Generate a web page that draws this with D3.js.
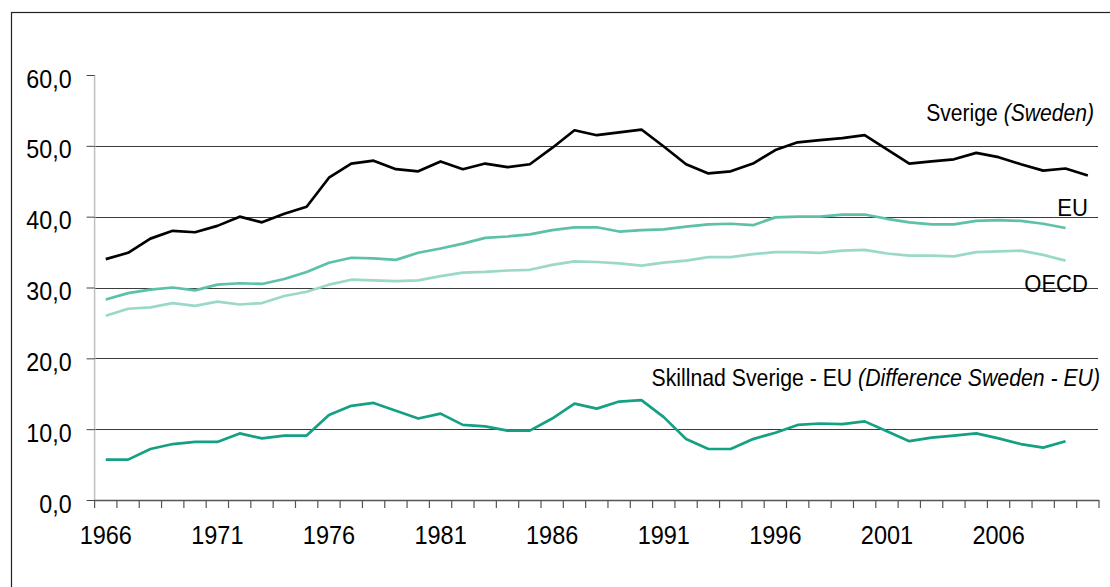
<!DOCTYPE html>
<html><head><meta charset="utf-8">
<script src="https://cdn.jsdelivr.net/npm/d3@7"></script>
<style>
html,body{margin:0;padding:0;background:#fff;}
svg{display:block;font-family:"Liberation Sans",Arial,sans-serif;}
</style></head>
<body><svg id="c" width="1110" height="587"></svg>
<script>
const years = d3.range(1966, 2011);
const tickYears = [1966, 1971, 1976, 1981, 1986, 1991, 1996, 2001, 2006];
const yTicks = [0, 10, 20, 30, 40, 50, 60];
const gridValues = [10, 20, 30, 40, 50];

const sweden = [34.0, 34.9, 36.9, 38.0, 37.8, 38.7, 40.0, 39.2, 40.4, 41.4,
  45.5, 47.5, 47.9, 46.7, 46.4, 47.8, 46.7, 47.5, 47.0, 47.4,
  49.7, 52.2, 51.5, 51.9, 52.3, 49.9, 47.4, 46.1, 46.4, 47.5,
  49.4, 50.5, 50.8, 51.1, 51.5, 49.5, 47.5, 47.8, 48.1, 49.0,
  48.4, 47.4, 46.5, 46.8, 45.8];
const eu = [28.3, 29.2, 29.7, 30.0, 29.6, 30.4, 30.6, 30.5, 31.2, 32.2,
  33.5, 34.2, 34.1, 33.9, 34.9, 35.5, 36.2, 37.0, 37.2, 37.5,
  38.1, 38.5, 38.5, 37.9, 38.1, 38.2, 38.6, 38.9, 39.0, 38.8,
  39.9, 40.0, 40.0, 40.3, 40.3, 39.7, 39.2, 38.9, 38.9, 39.4,
  39.5, 39.4, 39.0, 38.4];
const oecd = [26.0, 27.0, 27.2, 27.8, 27.4, 28.0, 27.6, 27.8, 28.8, 29.4,
  30.4, 31.1, 31.0, 30.9, 31.0, 31.6, 32.1, 32.2, 32.4, 32.5,
  33.2, 33.7, 33.6, 33.4, 33.1, 33.5, 33.8, 34.3, 34.3, 34.7,
  35.0, 35.0, 34.9, 35.2, 35.3, 34.8, 34.5, 34.5, 34.4, 35.0,
  35.1, 35.2, 34.6, 33.8];
const diff = [5.7, 5.7, 7.2, 7.9, 8.2, 8.2, 9.4, 8.7, 9.1, 9.1,
  12.0, 13.3, 13.7, 12.6, 11.5, 12.2, 10.6, 10.4, 9.8, 9.8,
  11.5, 13.6, 12.9, 13.9, 14.1, 11.7, 8.6, 7.2, 7.2, 8.6,
  9.5, 10.6, 10.8, 10.7, 11.1, 9.7, 8.3, 8.8, 9.1, 9.4,
  8.7, 7.9, 7.4, 8.3];

const series = [
  {name: "oecd", values: oecd, color: "#9ad9c9", width: 2.7},
  {name: "eu", values: eu, color: "#5cc1a7", width: 2.7},
  {name: "sweden", values: sweden, color: "#000000", width: 2.7},
  {name: "diff", values: diff, color: "#16a083", width: 2.7}
];

(function() {
const svg = d3.select("#c");
const pl = 94.6, pr = 1099, pt = 75, pb = 500;
const x = d3.scaleBand().domain(years).range([pl, pr]).padding(0);
const y = d3.scaleLinear().domain([0, 60]).range([pb, pt]);

// outer border
svg.append("rect").attr("x", 11.5).attr("y", 12.5).attr("width", 1200).attr("height", 700)
  .attr("fill", "none").attr("stroke", "#222").attr("stroke-width", 1.2);

// gridlines
svg.append("g").selectAll("line").data(gridValues).join("line")
  .attr("x1", pl).attr("x2", 1098)
  .attr("y1", d => Math.round(y(d)) + 0.5).attr("y2", d => Math.round(y(d)) + 0.5)
  .attr("stroke", "#3c3c3c").attr("stroke-width", 1);

// y axis
const yAxis = svg.append("g").attr("transform", `translate(${pl},0)`)
  .call(d3.axisLeft(y).tickValues(yTicks).tickSize(8).tickPadding(14)
    .tickFormat(d => d.toFixed(1).replace(".", ",")));
yAxis.select(".domain").attr("stroke", "#c0c0c0").attr("stroke-width", 1.5)
  .attr("d", `M0,${pt}V${pb}`);
yAxis.selectAll(".tick line").attr("stroke", "#444");
yAxis.selectAll(".tick text").attr("font-size", 25).attr("fill", "#000")
  .attr("font-family", "Liberation Sans, Arial, sans-serif")
  .attr("dy", "0.48em")
  .attr("x", null).attr("text-anchor", "end")
  .attr("transform", "translate(-23,0) scale(0.93,1)");

// x axis
const xg = svg.append("g").attr("transform", `translate(0,${pb})`);
xg.append("line").attr("x1", pl).attr("x2", pr).attr("y1", 0.5).attr("y2", 0.5)
  .attr("stroke", "#555").attr("stroke-width", 1.5);
const boundaries = years.map(d => x(d)).concat([pr]);
xg.selectAll("line.tk").data(boundaries).join("line").attr("class", "tk")
  .attr("x1", d => d).attr("x2", d => d).attr("y1", 0).attr("y2", 8)
  .attr("stroke", "#555").attr("stroke-width", 1.2);
xg.selectAll("text").data(tickYears).join("text")
  .attr("transform", d => `translate(${x(d) + x.bandwidth() / 2},44) scale(0.94,1)`)
  .attr("text-anchor", "middle").attr("font-size", 25).attr("fill", "#000")
  .text(d => d);

// lines
const line = d3.line().x((d, i) => x(years[i]) + x.bandwidth() / 2).y(d => y(d));
svg.append("g").selectAll("path").data(series).join("path")
  .attr("d", d => line(d.values))
  .attr("fill", "none").attr("stroke", d => d.color).attr("stroke-width", d => d.width)
  .attr("stroke-linejoin", "round");

// labels
function label(xr, yb, parts, size, sx) {
  const t = svg.append("text").attr("text-anchor", "end").attr("font-size", size)
    .attr("fill", "#000").attr("transform", `translate(${xr},${yb}) scale(${sx},1)`);
  parts.forEach(p => t.append("tspan").attr("font-style", p[1] ? "italic" : "normal").text(p[0]));
}
label(1094, 121, [["Sverige ", false], ["(Sweden)", true]], 24, 0.88);
label(1088, 216, [["EU", false]], 24, 0.92);
label(1088, 292, [["OECD", false]], 24, 0.92);
label(1100, 386, [["Skillnad Sverige - EU ", false], ["(Difference Sweden - EU)", true]], 24, 0.885);
})();
</script></body></html>
